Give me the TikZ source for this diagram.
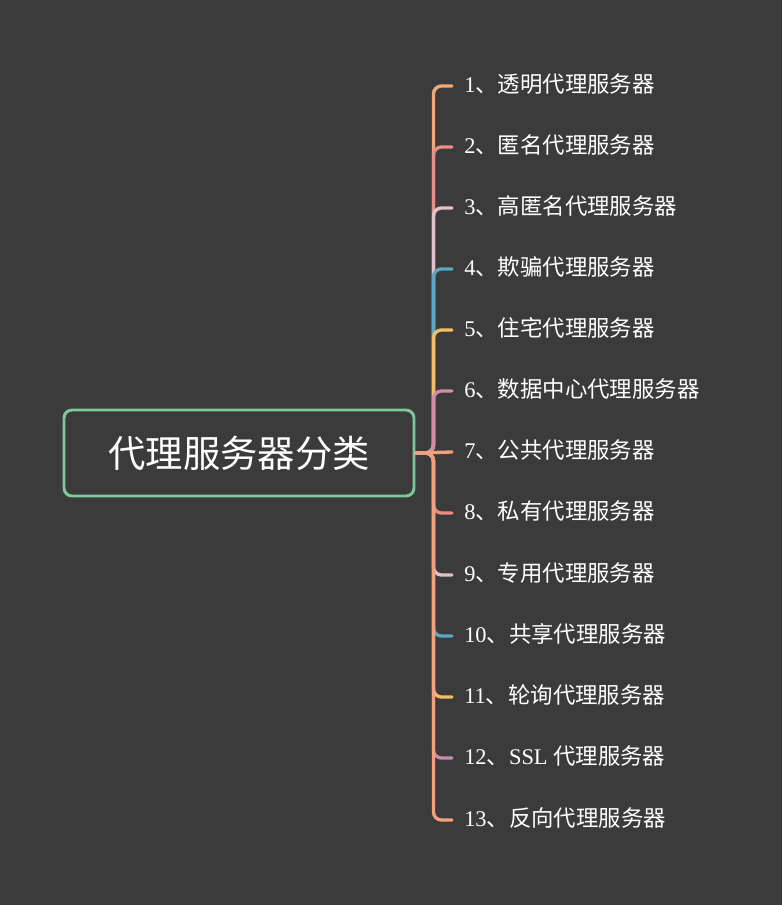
\documentclass[tikz,border=0pt]{standalone}
\usepackage{fontspec}
\setmainfont{Liberation Serif}
\newfontfamily\cjk{Noto Sans CJK SC}
\usepackage{xcolor}
\usetikzlibrary{positioning}

\definecolor{bgcol}{HTML}{3B3B3B}
\definecolor{rootcol}{HTML}{7EC99A}
\definecolor{peach}{HTML}{F0A877}
\definecolor{rose}{HTML}{E88E8A}
\definecolor{blush}{HTML}{E2C2CA}
\definecolor{teal}{HTML}{5BA8C4}
\definecolor{amber}{HTML}{F4BE68}
\definecolor{mauve}{HTML}{D48BA8}
\definecolor{salmon}{HTML}{F3A07F}
\definecolor{coral}{HTML}{EA8C82}
\definecolor{plum}{HTML}{C98CAE}

\begin{document}
\begin{tikzpicture}[
  x=0.75pt, y=-0.75pt,
  root/.style={draw=rootcol, line width=2.2pt, rounded corners=6pt, fill=bgcol,
    minimum width=262.5pt, minimum height=64.5pt, text=white, font=\cjk\fontsize{28}{32}\selectfont},
  leaf/.style={anchor=west, inner xsep=0pt, text=white, text height=1em, text depth=0em,
    font=\fontsize{16.8}{20}\selectfont},
  branch/.style={line width=2.5pt, rounded corners=6pt, line cap=round}
]

% Background
\fill[bgcol] (0,0) rectangle (782,905);
\useasboundingbox (0,0) rectangle (782,905);

% Root
\node[root] (cls) at (239,453) {代理服务器分类};

% Leaves
\node[leaf] (transparent) at (464,86) {1{\cjk 、透明代理服务器}};
\node[leaf] (anonymous) at (464,147) {2{\cjk 、匿名代理服务器}};
\node[leaf] (elite) at (464,208) {3{\cjk 、高匿名代理服务器}};
\node[leaf] (distorting) at (464,269) {4{\cjk 、欺骗代理服务器}};
\node[leaf] (residential) at (464,330) {5{\cjk 、住宅代理服务器}};
\node[leaf] (datacenter) at (464,391) {6{\cjk 、数据中心代理服务器}};
\node[leaf] (public) at (464,452) {7{\cjk 、公共代理服务器}};
\node[leaf] (private) at (464,513) {8{\cjk 、私有代理服务器}};
\node[leaf] (dedicated) at (464,575) {9{\cjk 、专用代理服务器}};
\node[leaf] (shared) at (464,636) {10{\cjk 、共享代理服务器}};
\node[leaf] (rotating) at (464,697) {11{\cjk 、轮询代理服务器}};
\node[leaf] (ssl) at (464,758) {12{\cjk 、}SSL {\cjk 代理服务器}};
\node[leaf] (reverse) at (464,820) {13{\cjk 、反向代理服务器}};

% Branches
\draw[branch, peach] (cls.east) -- ++(18,0) |- ([xshift=-9pt]transparent.west);
\draw[branch, rose] (cls.east) -- ++(18,0) |- ([xshift=-9pt]anonymous.west);
\draw[branch, blush] (cls.east) -- ++(18,0) |- ([xshift=-9pt]elite.west);
\draw[branch, teal] (cls.east) -- ++(18,0) |- ([xshift=-9pt]distorting.west);
\draw[branch, amber] (cls.east) -- ++(18,0) |- ([xshift=-9pt]residential.west);
\draw[branch, mauve] (cls.east) -- ++(18,0) |- ([xshift=-9pt]datacenter.west);
\draw[branch, coral] (cls.east) -- ++(18,0) |- ([xshift=-9pt]private.west);
\draw[branch, blush] (cls.east) -- ++(18,0) |- ([xshift=-9pt]dedicated.west);
\draw[branch, teal] (cls.east) -- ++(18,0) |- ([xshift=-9pt]shared.west);
\draw[branch, amber] (cls.east) -- ++(18,0) |- ([xshift=-9pt]rotating.west);
\draw[branch, plum] (cls.east) -- ++(18,0) |- ([xshift=-9pt]ssl.west);
\draw[branch, salmon] (cls.east) -- ++(18,0) |- ([xshift=-9pt]reverse.west);
\draw[branch, salmon] (cls.east) -- ([xshift=-9pt]public.west);

\end{tikzpicture}
\end{document}
